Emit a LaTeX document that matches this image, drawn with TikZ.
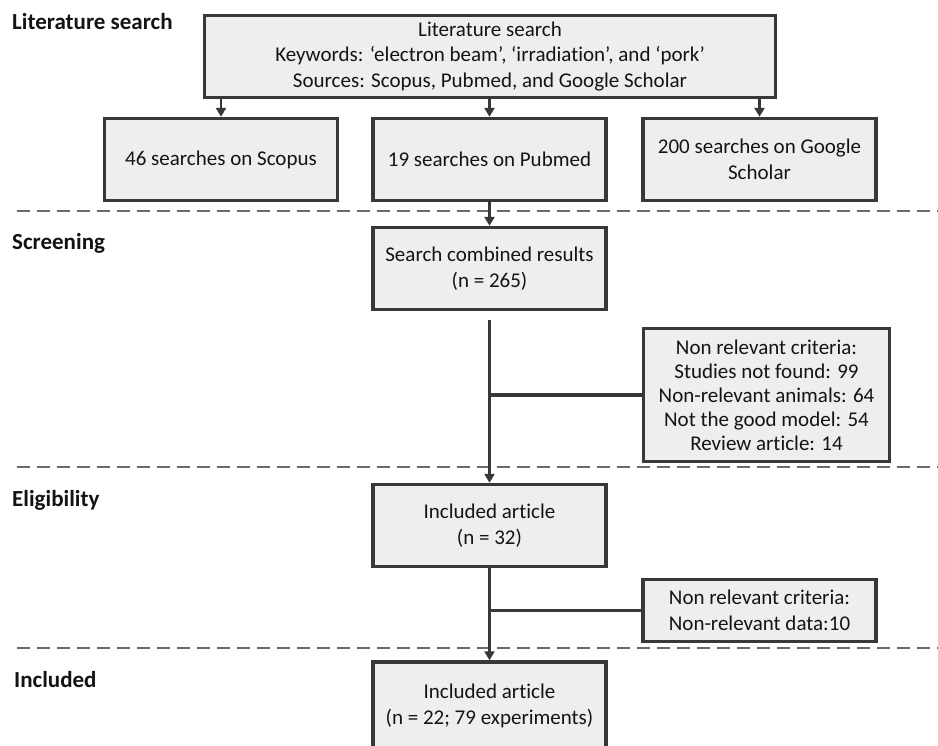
\documentclass[tikz,border=0pt]{standalone}
\usepackage{fontspec}
\setmainfont{Carlito}[Ligatures=NoCommon]
\usepackage{tikz}
\usepackage{xcolor}
\usetikzlibrary{arrows.meta}

\definecolor{boxfill}{gray}{0.935}
\definecolor{boxline}{gray}{0.22}
\definecolor{sepline}{gray}{0.42}
\definecolor{conn}{gray}{0.22}
\definecolor{txt}{gray}{0.08}

\begin{document}
\begin{tikzpicture}[x=1pt,y=-1pt,
  box/.style={draw=boxline,line width=3.4pt,fill=boxfill,align=center,inner sep=0pt,
    text=txt,font=\fontsize{21}{25.5}\selectfont},
  stage/.style={anchor=west,inner sep=0pt,text=txt,font=\fontsize{23}{26}\selectfont\bfseries},
  sep/.style={draw=sepline,line width=2.6pt,dash pattern=on 13pt off 7pt},
  arr/.style={draw=conn,line width=2.8pt,-{Triangle[length=9pt,width=10pt]}},
  link/.style={draw=conn,line width=3.4pt}]
\useasboundingbox (0,0) rectangle (938,746);
\clip (0,0) rectangle (938,746);
\fill[white] (0,0) rectangle (938,746);

\node[stage] (lLit) at (12,22) {Literature search};
\node[stage] (lScr) at (12,243) {Screening};
\node[stage] (lElig) at (12,500) {Eligibility};
\node[stage] (lIncl) at (14,680) {Included};

\draw[sep] (17,211) -- (938,211);
\draw[sep] (17,467) -- (938,467);
\draw[sep] (17,648) -- (938,648);

\node[box,minimum width=571pt,minimum height=82pt] (lit) at (490,56.5)
  {Literature search\\Keywords: ‘electron beam’, ‘irradiation’, and ‘pork’\\Sources: Scopus, Pubmed, and Google Scholar};
\node[box,minimum width=233pt,minimum height=82pt] (scopus) at (221,159.5) {46 searches on Scopus};
\node[box,minimum width=233pt,minimum height=82pt] (pubmed) at (489.5,159.5) {19 searches on Pubmed};
\node[box,minimum width=233pt,minimum height=82pt] (google) at (759.5,159.5) {200 searches on Google\\Scholar};
\node[box,minimum width=233pt,minimum height=82pt] (screen) at (489.5,268.5) {Search combined results\\(n = 265)};
\node[box,minimum width=246pt,minimum height=133pt,font=\fontsize{21}{24}\selectfont] (excl1) at (766.5,395)
  {Non relevant criteria:\\Studies not found: 99\\Non-relevant animals: 64\\Not the good model: 54\\Review article: 14};
\node[box,minimum width=233pt,minimum height=82pt] (elig) at (489.5,525.5) {Included article\\(n = 32)};
\node[box,minimum width=233pt,minimum height=62pt] (excl2) at (759.5,610.5) {Non relevant criteria:\\Non-relevant data:10};
\node[box,minimum width=233pt,minimum height=88pt] (incl) at (489.5,706) {Included article\\(n = 22; 79 experiments)};

\draw[arr] (lit.south -| scopus.north) -- (scopus.north);
\draw[arr] (lit.south -| pubmed.north) -- (pubmed.north);
\draw[arr] (lit.south -| google.north) -- (google.north);
\draw[arr] (pubmed.south) -- (screen.north);
\coordinate (scrOut) at ([yshift=-9pt]screen.south);
\draw[arr] (scrOut) -- (elig.north);
\draw[link] (scrOut |- excl1.west) -- (excl1.west);
\draw[arr] (elig.south) -- (incl.north);
\draw[link] (elig.south |- excl2.west) -- (excl2.west);
\end{tikzpicture}
\end{document}
